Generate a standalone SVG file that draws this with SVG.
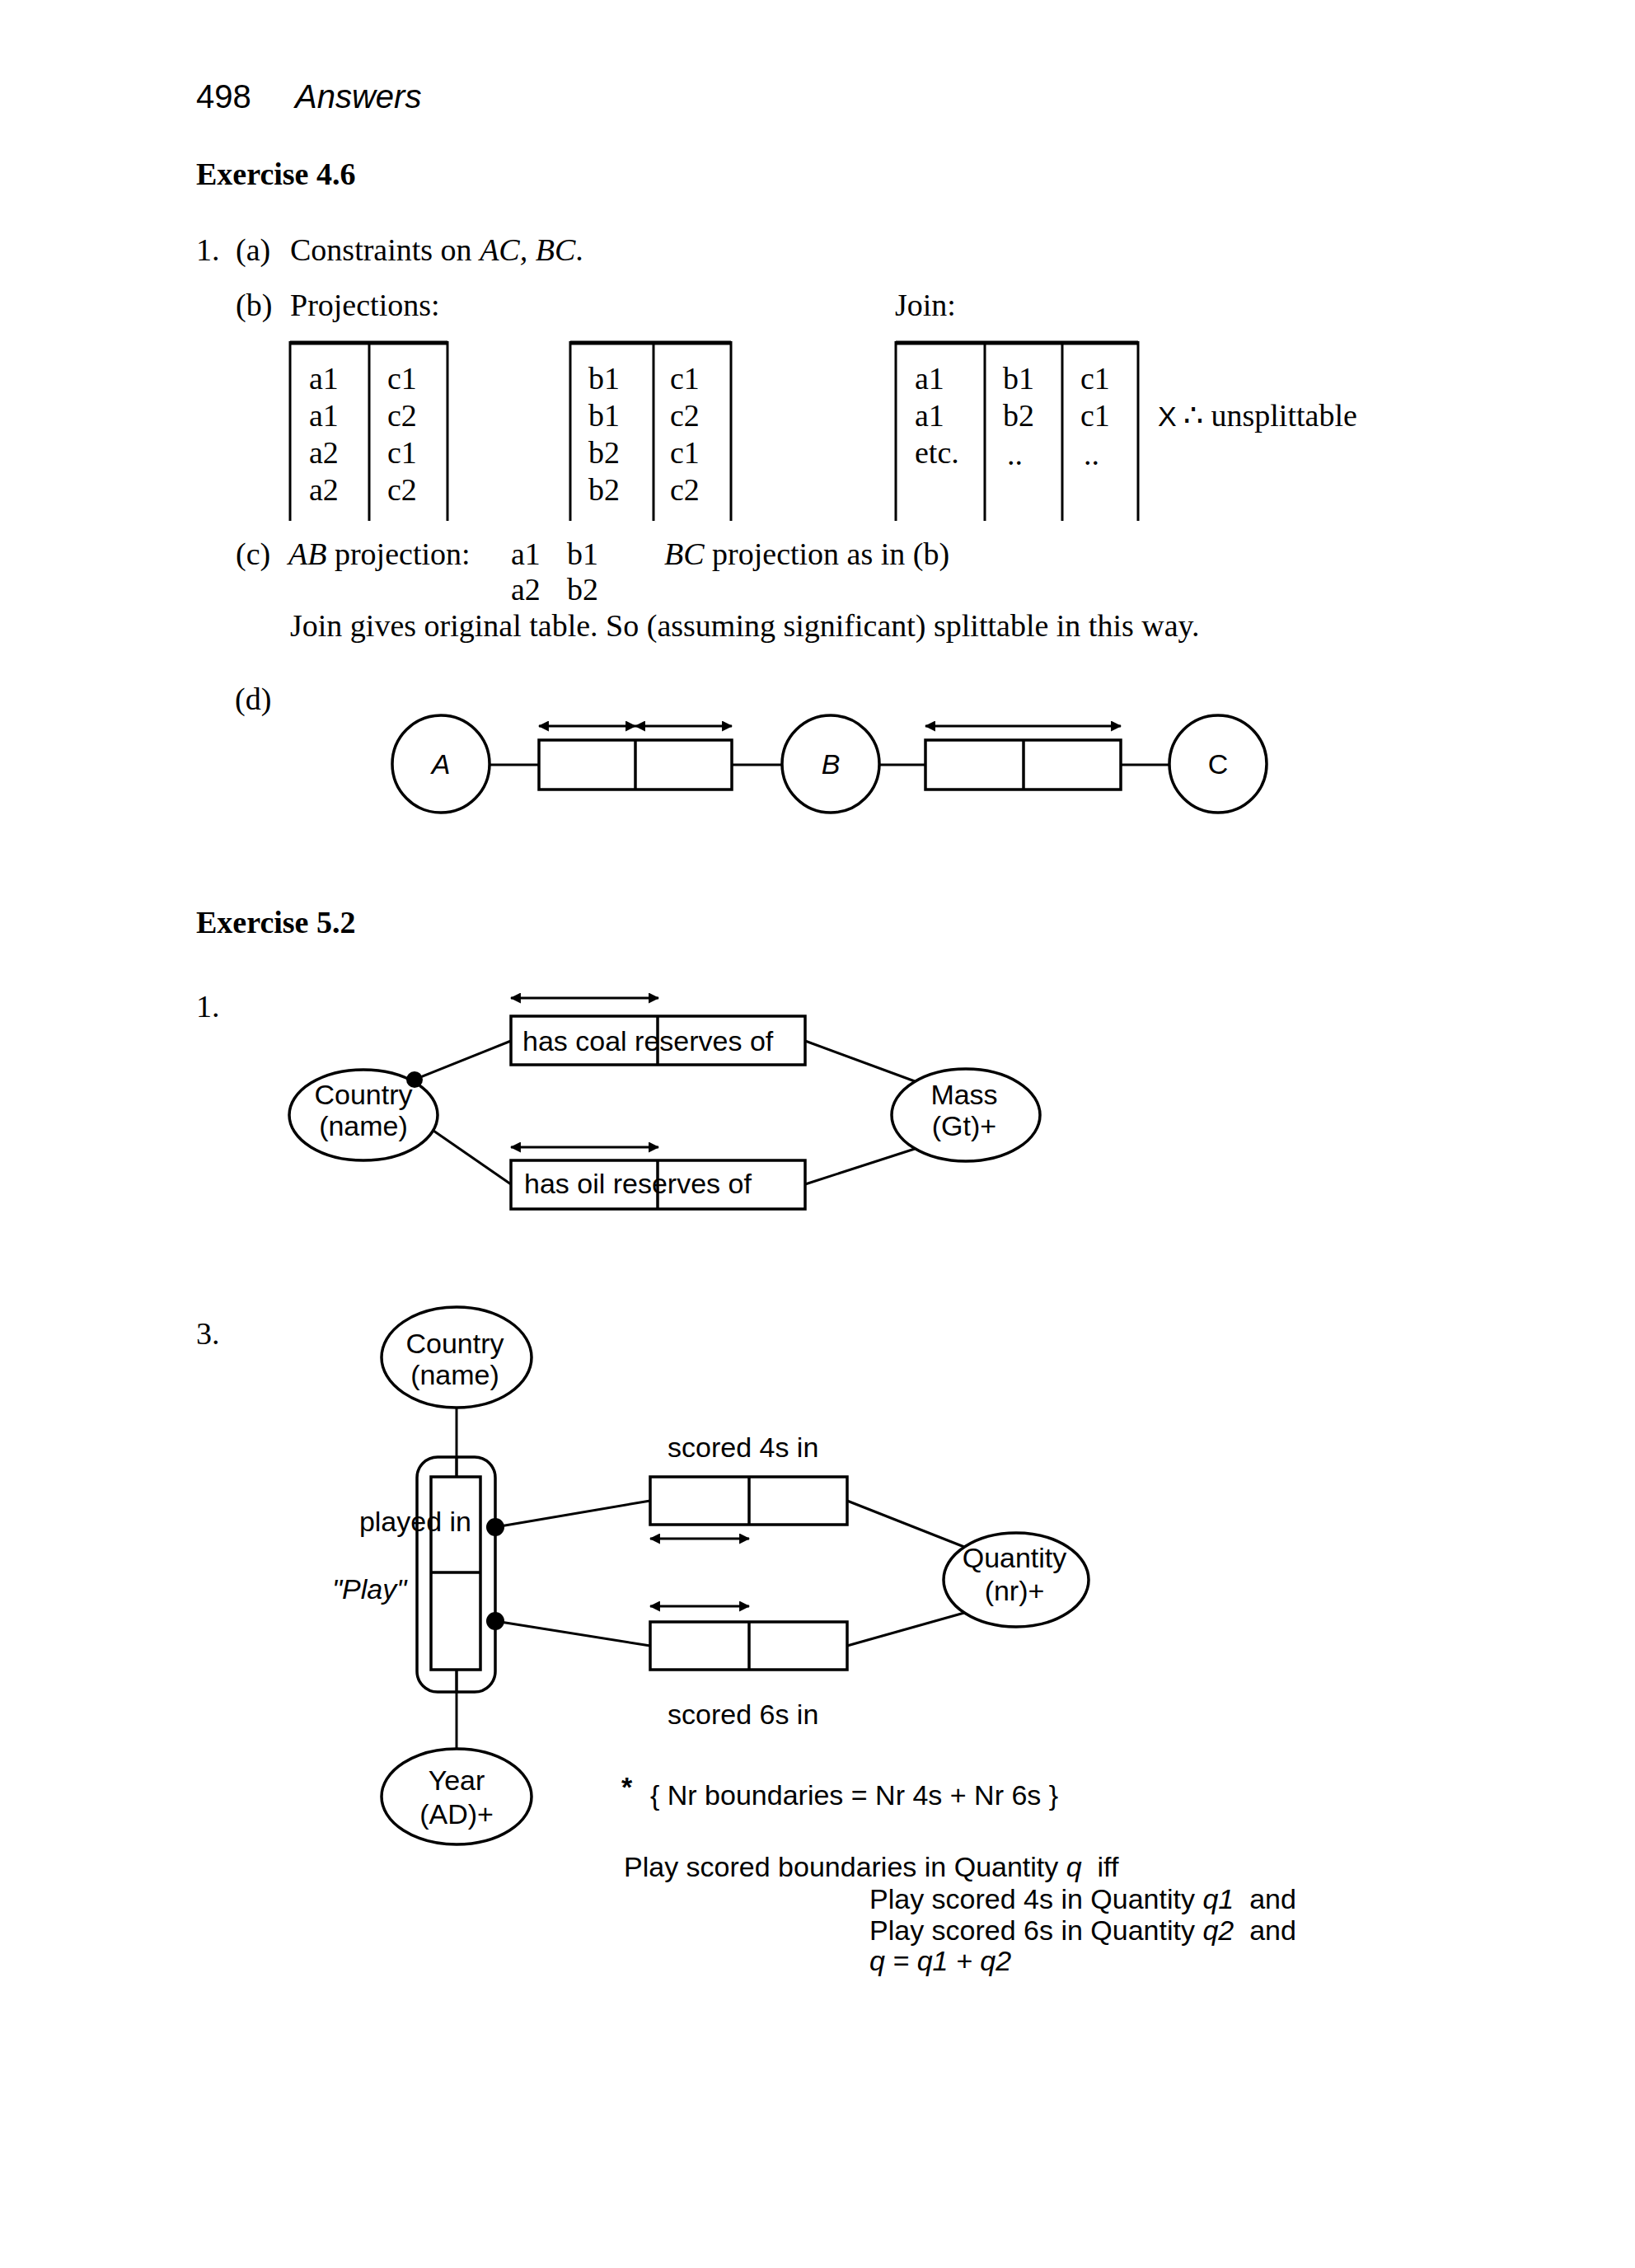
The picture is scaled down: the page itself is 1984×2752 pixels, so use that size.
<svg xmlns="http://www.w3.org/2000/svg" width="1984" height="2752" viewBox="0 0 1984 2752">
<style>
.serif{font-family:"Liberation Serif","Times New Roman",serif;font-size:38px;fill:#000}
.head{font-family:"Liberation Sans",Arial,sans-serif;font-size:40px;fill:#000}
.bold{font-weight:bold;font-size:38px}
.sans{font-family:"Liberation Sans",Arial,sans-serif;font-size:34px;fill:#000}
.it{font-style:italic}
.shape{fill:#fff;stroke:#000;stroke-width:3.5}
.open{fill:none;stroke:#000;stroke-width:3.5}
.conn{fill:none;stroke:#000;stroke-width:3}
.rule{fill:none;stroke:#000;stroke-width:3}
.top{fill:none;stroke:#000;stroke-width:5}
.arr{fill:none;stroke:#000;stroke-width:3;marker-start:url(#ah);marker-end:url(#ah)}
.dot{fill:#000}
.mid{text-anchor:middle}
</style>
<defs>
<marker id="ah" viewBox="0 0 12 12" refX="11" refY="6" markerWidth="13" markerHeight="13" markerUnits="userSpaceOnUse" orient="auto-start-reverse">
<path d="M0,0 L12,6 L0,12 z" fill="#000"/>
</marker>
</defs>
<rect width="1984" height="2752" fill="#fff"/>

<!-- Header and text -->
<g id="header">
<text class="head" x="238" y="131">498</text>
<text class="head it" x="358" y="131">Answers</text>
<text class="serif bold" x="238" y="224">Exercise 4.6</text>
</g>

<g id="ex46-text">
<text class="serif" x="238" y="316">1.</text>
<text class="serif" x="286" y="316">(a)</text>
<text class="serif" x="352" y="316">Constraints on <tspan class="it">AC, BC</tspan>.</text>
<text class="serif" x="286" y="383">(b)</text>
<text class="serif" x="352" y="383">Projections:</text>
<text class="serif" x="1086" y="383">Join:</text>
<text class="serif" x="286" y="685">(c)</text>
<text class="serif" x="350" y="685"><tspan class="it">AB</tspan> projection:</text>
<text class="serif" x="620" y="685">a1</text>
<text class="serif" x="688" y="685">b1</text>
<text class="serif" x="806" y="685"><tspan class="it">BC</tspan> projection as in (b)</text>
<text class="serif" x="620" y="728">a2</text>
<text class="serif" x="688" y="728">b2</text>
<text class="serif" x="352" y="772">Join gives original table. So (assuming significant) splittable in this way.</text>
<text class="serif" x="285" y="861">(d)</text>
</g>

<!-- Table 1 -->
<g id="table-ac">
<line class="top" x1="352" y1="416" x2="543" y2="416"/>
<line class="rule" x1="352" y1="414" x2="352" y2="632"/>
<line class="rule" x1="448" y1="414" x2="448" y2="632"/>
<line class="rule" x1="543" y1="414" x2="543" y2="632"/>
<text class="serif" x="375" y="472">a1</text><text class="serif" x="470" y="472">c1</text>
<text class="serif" x="375" y="517">a1</text><text class="serif" x="470" y="517">c2</text>
<text class="serif" x="375" y="562">a2</text><text class="serif" x="470" y="562">c1</text>
<text class="serif" x="375" y="607">a2</text><text class="serif" x="470" y="607">c2</text>
</g>

<!-- Table 2 -->
<g id="table-bc">
<line class="top" x1="692" y1="416" x2="887" y2="416"/>
<line class="rule" x1="692" y1="414" x2="692" y2="632"/>
<line class="rule" x1="793" y1="414" x2="793" y2="632"/>
<line class="rule" x1="887" y1="414" x2="887" y2="632"/>
<text class="serif" x="714" y="472">b1</text><text class="serif" x="813" y="472">c1</text>
<text class="serif" x="714" y="517">b1</text><text class="serif" x="813" y="517">c2</text>
<text class="serif" x="714" y="562">b2</text><text class="serif" x="813" y="562">c1</text>
<text class="serif" x="714" y="607">b2</text><text class="serif" x="813" y="607">c2</text>
</g>

<!-- Table 3 -->
<g id="table-join">
<line class="top" x1="1087" y1="416" x2="1381" y2="416"/>
<line class="rule" x1="1087" y1="414" x2="1087" y2="632"/>
<line class="rule" x1="1195" y1="414" x2="1195" y2="632"/>
<line class="rule" x1="1289" y1="414" x2="1289" y2="632"/>
<line class="rule" x1="1381" y1="414" x2="1381" y2="632"/>
<text class="serif" x="1110" y="472">a1</text><text class="serif" x="1217" y="472">b1</text><text class="serif" x="1311" y="472">c1</text>
<text class="serif" x="1110" y="517">a1</text><text class="serif" x="1217" y="517">b2</text><text class="serif" x="1311" y="517">c1</text>
<text class="serif" x="1110" y="562">etc.</text><text class="serif" x="1222" y="564">..</text><text class="serif" x="1315" y="564">..</text>
<text class="sans" x="1405" y="517">X</text>
<text class="serif" x="1436" y="517">∴ unsplittable</text>
</g>

<!-- (d) diagram -->
<g id="d-connectors">
<line class="conn" x1="594" y1="928" x2="654" y2="928"/>
<line class="conn" x1="888" y1="928" x2="949" y2="928"/>
<line class="conn" x1="1067" y1="928" x2="1123" y2="928"/>
<line class="conn" x1="1360" y1="928" x2="1419" y2="928"/>
<line class="arr" x1="654" y1="881" x2="771" y2="881"/>
<line class="arr" x1="771" y1="881" x2="888" y2="881"/>
<line class="arr" x1="1123" y1="881" x2="1360" y2="881"/>
</g>
<g id="d-A"><circle class="shape" cx="535" cy="927" r="59"/><text class="sans it mid" x="535" y="939" font-size="31">A</text></g>
<g id="d-AB"><rect class="shape" x="654" y="898" width="234" height="60"/><line class="open" x1="771" y1="898" x2="771" y2="958"/></g>
<g id="d-B"><circle class="shape" cx="1008" cy="927" r="59"/><text class="sans it mid" x="1008" y="939" font-size="31">B</text></g>
<g id="d-BC"><rect class="shape" x="1123" y="898" width="237" height="60"/><line class="open" x1="1242" y1="898" x2="1242" y2="958"/></g>
<g id="d-C"><circle class="shape" cx="1478" cy="927" r="59"/><text class="sans mid" x="1478" y="939" font-size="31">C</text></g>

<!-- Exercise 5.2 -->
<g id="ex52-text">
<text class="serif bold" x="238" y="1132">Exercise 5.2</text>
<text class="serif" x="238" y="1234">1.</text>
<text class="serif" x="238" y="1631">3.</text>
</g>

<!-- Diagram 1 -->
<g id="d1-connectors">
<line class="conn" x1="503" y1="1310" x2="620" y2="1263"/>
<line class="conn" x1="526" y1="1372" x2="620" y2="1437"/>
<line class="conn" x1="977" y1="1263" x2="1110" y2="1312"/>
<line class="conn" x1="977" y1="1437" x2="1110" y2="1394"/>
<line class="arr" x1="620" y1="1211" x2="799" y2="1211"/>
<line class="arr" x1="620" y1="1392" x2="799" y2="1392"/>
</g>
<g id="d1-country"><ellipse class="shape" cx="441" cy="1353" rx="90" ry="55"/>
<text class="sans mid" x="441" y="1340">Country</text><text class="sans mid" x="441" y="1378">(name)</text>
<circle class="dot" cx="503" cy="1310" r="10"/></g>
<g id="d1-coal"><rect class="shape" x="620" y="1233" width="357" height="59"/><line class="open" x1="798" y1="1233" x2="798" y2="1292"/>
<text class="sans" x="634" y="1275">has coal reserves of</text></g>
<g id="d1-oil"><rect class="shape" x="620" y="1408" width="357" height="59"/><line class="open" x1="798" y1="1408" x2="798" y2="1467"/>
<text class="sans" x="636" y="1448">has oil reserves of</text></g>
<g id="d1-mass"><ellipse class="shape" cx="1172" cy="1353" rx="90" ry="56"/>
<text class="sans mid" x="1170" y="1340">Mass</text><text class="sans mid" x="1170" y="1378">(Gt)+</text></g>

<!-- Diagram 3 -->
<g id="d3-connectors">
<line class="conn" x1="554" y1="1708" x2="554" y2="1792"/>
<line class="conn" x1="554" y1="2026" x2="554" y2="2122"/>
<line class="conn" x1="601" y1="1853" x2="789" y2="1821"/>
<line class="conn" x1="601" y1="1967" x2="789" y2="1997"/>
<line class="conn" x1="1028" y1="1821" x2="1170" y2="1877"/>
<line class="conn" x1="1028" y1="1997" x2="1170" y2="1957"/>
<line class="arr" x1="789" y1="1867" x2="909" y2="1867"/>
<line class="arr" x1="789" y1="1949" x2="909" y2="1949"/>
</g>
<g id="d3-country"><ellipse class="shape" cx="554" cy="1647" rx="91" ry="61"/>
<text class="sans mid" x="552" y="1642">Country</text><text class="sans mid" x="552" y="1680">(name)</text></g>
<g id="d3-play">
<rect class="open" x="506" y="1768" width="95" height="285" rx="25" ry="25"/>
<rect class="shape" x="523" y="1792" width="60" height="234"/>
<line class="open" x1="523" y1="1908" x2="583" y2="1908"/>
<line class="conn" x1="554" y1="1768" x2="554" y2="1792"/>
<line class="conn" x1="554" y1="2026" x2="554" y2="2053"/>
<text class="sans" x="572" y="1858" text-anchor="end">played in</text>
<text class="sans it" x="403" y="1940">"Play"</text>
<circle class="dot" cx="601" cy="1853" r="11"/>
<circle class="dot" cx="601" cy="1967" r="11"/>
</g>
<g id="d3-4s"><rect class="shape" x="789" y="1792" width="239" height="58"/><line class="open" x1="909" y1="1792" x2="909" y2="1850"/>
<text class="sans" x="810" y="1768">scored 4s in</text></g>
<g id="d3-6s"><rect class="shape" x="789" y="1968" width="239" height="58"/><line class="open" x1="909" y1="1968" x2="909" y2="2026"/>
<text class="sans" x="810" y="2092">scored 6s in</text></g>
<g id="d3-quantity"><ellipse class="shape" cx="1233" cy="1917" rx="88" ry="57"/>
<text class="sans mid" x="1231" y="1902">Quantity</text><text class="sans mid" x="1231" y="1942">(nr)+</text></g>
<g id="d3-year"><ellipse class="shape" cx="554" cy="2180" rx="91" ry="58"/>
<text class="sans mid" x="554" y="2172">Year</text><text class="sans mid" x="554" y="2213">(AD)+</text></g>

<g id="d3-text">
<text class="sans" x="754" y="2180" font-weight="bold">*</text>
<text class="sans" x="789" y="2190">{ Nr boundaries = Nr 4s + Nr 6s }</text>
<text class="sans" x="757" y="2277" xml:space="preserve">Play scored boundaries in Quantity <tspan class="it">q</tspan>  iff</text>
<text class="sans" x="1055" y="2316" xml:space="preserve">Play scored 4s in Quantity <tspan class="it">q1</tspan>  and</text>
<text class="sans" x="1055" y="2354" xml:space="preserve">Play scored 6s in Quantity <tspan class="it">q2</tspan>  and</text>
<text class="sans it" x="1055" y="2391">q = q1 + q2</text>
</g>
</svg>
